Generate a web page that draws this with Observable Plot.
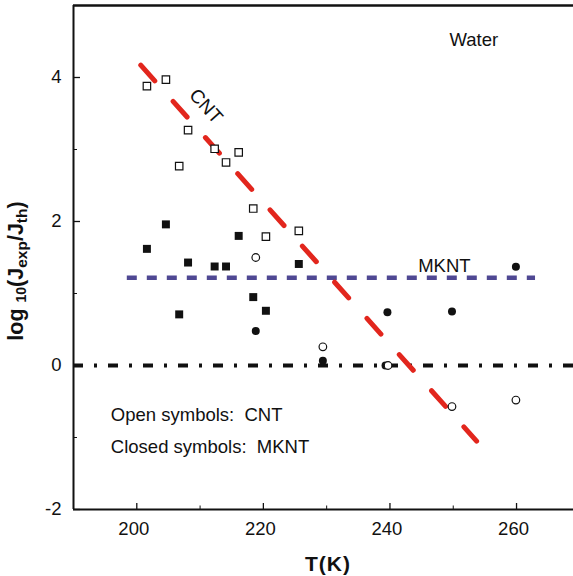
<!DOCTYPE html>
<html><head><meta charset="utf-8">
<script src="https://cdn.jsdelivr.net/npm/d3@7"></script>
<script src="https://cdn.jsdelivr.net/npm/@observablehq/plot@0.6"></script>
<style>body{margin:0;background:#fff;overflow:hidden} svg{display:block}</style>
</head><body><div id="chart"></div>
<script>
// ---- data ----
const squareT      = [201.6, 204.6, 206.7, 208.1, 212.3, 214.1, 216.1, 218.4, 220.4, 225.6];
const openSquareY  = [3.88, 3.97, 2.77, 3.27, 3.01, 2.82, 2.96, 2.18, 1.79, 1.87];   // CNT
const closedSquareY= [1.62, 1.96, 0.71, 1.43, 1.375, 1.375, 1.80, 0.95, 0.76, 1.41]; // MKNT
const openCircleT  = [218.8, 229.4, 239.7, 249.8, 259.9];
const openCircleY  = [1.50, 0.26, 0.0, -0.57, -0.48];                                // CNT
const closedCircleT= [218.8, 229.4, 239.3, 239.6, 249.8, 259.9];
const closedCircleY= [0.48, 0.065, 0.0, 0.74, 0.75, 1.37];                           // MKNT
const cntFitT = [200.63, 253.69];
const cntFitY = [4.171, -1.051];
const mkntLevel = 1.22;
const mkntRange = [198.5, 263];
const xMajor = [200, 220, 240, 260];
const xMinor = [210, 230, 250];
const yMajor = [-2, 0, 2, 4];
const yMinor = [-1, 1, 3];

// ---- layout ----
const W = 573, H = 576, mL = 73, mR = 0, mT = 5, mB = 67;
const plotW = W - mL - mR, plotH = H - mT - mB;
const font = "'Liberation Sans', Arial, Helvetica, sans-serif";
const ink = "#111";

const toRows = (xs, ys) => xs.map((t, i) => ({T: t, v: ys[i]}));
const openSq = toRows(squareT, openSquareY);
const closedSq = toRows(squareT, closedSquareY);
const openCi = toRows(openCircleT, openCircleY);
const closedCi = toRows(closedCircleT, closedCircleY);
const cntFit = toRows(cntFitT, cntFitY);
const mkntRule = [{y: mkntLevel, x1: mkntRange[0], x2: mkntRange[1]}];

const notesStart = [
  {T: 249.4, v: 4.514, text: "Water"},
  {T: 195.9, v: -0.694, text: "Open symbols:\u00a0 CNT"},
  {T: 195.9, v: -1.134, text: "Closed symbols:\u00a0 MKNT"}
];
const notesMkn = [{T: 248.6, v: 1.382, text: "MKNT"}];
const notesCnt = [{T: 210.93, v: 3.60, text: "CNT"}];

const chart = Plot.plot({
  width: W, height: H,
  marginLeft: mL, marginRight: mR, marginTop: mT, marginBottom: mB,
  style: {fontFamily: font, background: "#fff", color: ink},
  x: {domain: [190, 269]},
  y: {domain: [-2, 5]},
  marks: [
    Plot.axisX({ticks: xMajor, tickSize: 0, tickPadding: 12, dx: -3, label: null, fontSize: 18.5, tickFormat: d => String(d)}),
    Plot.axisY({ticks: yMajor, tickSize: 0, tickPadding: 12, label: null, fontSize: 18.5, tickFormat: d => String(d)}),
    Plot.ruleY(yMajor, {stroke: ink, strokeWidth: 1.3, insetRight: plotW - 7}),
    Plot.ruleY(yMinor, {stroke: ink, strokeWidth: 1, insetRight: plotW - 4}),
    Plot.ruleX(xMajor, {stroke: ink, strokeWidth: 1.3, insetTop: plotH - 6}),
    Plot.ruleX(xMinor, {stroke: ink, strokeWidth: 1, insetTop: plotH - 3.5}),
    Plot.ruleX([190], {stroke: ink, strokeWidth: 2}),
    Plot.ruleY([-2], {stroke: ink, strokeWidth: 2}),
    Plot.ruleY([5], {stroke: ink, strokeWidth: 2.4}),
    Plot.ruleY([0], {stroke: ink, strokeWidth: 4, strokeDasharray: "10,11,3,11"}),
    Plot.ruleY(mkntRule, {y: "y", x1: "x1", x2: "x2", stroke: "#4f4893", strokeWidth: 4.5, strokeDasharray: "10,10"}),
    Plot.line(cntFit, {x: "T", y: "v", stroke: "#e2261d", strokeWidth: 5, strokeDasharray: "21,27.5"}),
    Plot.dot(openSq, {x: "T", y: "v", symbol: "square", r: 4.2, fill: "white", stroke: ink, strokeWidth: 1.2}),
    Plot.dot(closedSq, {x: "T", y: "v", symbol: "square", r: 4.5, fill: ink}),
    Plot.dot(closedCi, {x: "T", y: "v", r: 4, fill: ink}),
    Plot.dot(openCi, {x: "T", y: "v", r: 3.8, fill: "white", stroke: ink, strokeWidth: 1.2}),
    Plot.text(notesStart, {x: "T", y: "v", text: "text", textAnchor: "start", fontSize: 18.5, fill: ink}),
    Plot.text(notesMkn, {x: "T", y: "v", text: "text", textAnchor: "middle", fontSize: 18.5, fill: ink}),
    Plot.text(notesCnt, {x: "T", y: "v", text: "text", textAnchor: "middle", rotate: 48, fontSize: 19, fill: ink})
  ]
});

const svg = d3.select(chart);
// x-axis title
svg.append("text")
  .attr("x", 328).attr("y", 571)
  .attr("text-anchor", "middle")
  .attr("font-family", font).attr("font-weight", "bold").attr("font-size", 21)
  .attr("letter-spacing", 1)
  .attr("fill", ink)
  .text("T(K)");
// y-axis title with subscripts
const yl = svg.append("text")
  .attr("transform", "translate(23,271) rotate(-90)")
  .attr("text-anchor", "middle")
  .attr("font-family", font).attr("font-weight", "bold").attr("font-size", 21.5)
  .attr("fill", ink);
yl.append("tspan").text("log ");
yl.append("tspan").attr("font-size", 14).attr("dy", 3).text("10");
yl.append("tspan").attr("dy", -3).text("(J");
yl.append("tspan").attr("font-size", 15.5).attr("dy", 4).text("exp");
yl.append("tspan").attr("dy", -4).text("/J");
yl.append("tspan").attr("font-size", 15.5).attr("dy", 4).text("th");
yl.append("tspan").attr("dy", -4).text(")");

document.getElementById("chart").appendChild(chart);
</script>
</body></html>
